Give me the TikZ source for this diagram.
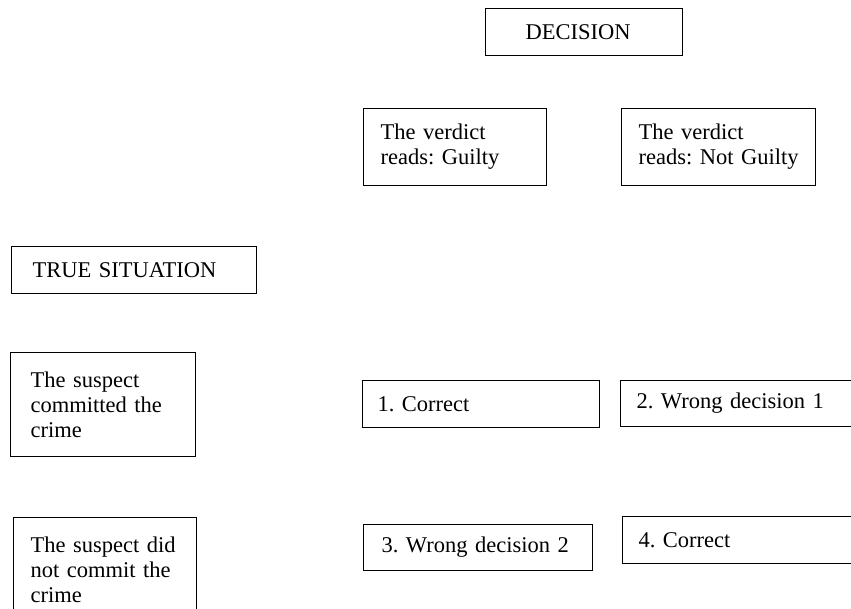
\documentclass[tikz,border=0pt]{standalone}
\usepackage{fontspec}
\setmainfont{Liberation Serif}
\usepackage{tikz}
\frenchspacing

\tikzset{
	cell/.style={draw, line width=1.2pt, anchor=north west, align=left, inner ysep=0pt, font=\fontsize{22.5}{25}\selectfont}
}

\begin{document}
\begin{tikzpicture}[x=1pt, y=-1pt]
		\clip (0,0) rectangle (851,609);
		
		\node[cell, inner xsep=40pt, text width=117pt, minimum height=47pt] (decision) at (485,8) {DECISION};
		\node[cell, inner xsep=17pt, text width=149pt, minimum height=77pt] (guilty) at (363,108) {The verdict\\reads: Guilty};
		\node[cell, inner xsep=17pt, text width=160pt, minimum height=77pt] (notguilty) at (621,108) {The verdict\\reads: Not Guilty};
		
		\node[cell, inner xsep=21pt, text width=203pt, minimum height=47pt] (truesit) at (11,246) {TRUE SITUATION};
		\node[cell, inner xsep=20pt, text width=145pt, minimum height=104pt] (committed) at (10,352) {The suspect\\committed the\\crime};
		\node[cell, inner xsep=17pt, text width=149pt, minimum height=104pt] (notcommitted) at (13,517) {The suspect did\\not commit the\\crime};
		
		\node[cell, inner xsep=15pt, text width=207pt, minimum height=47pt] (correctone) at (362,380) {1. Correct};
		\node[cell, inner xsep=16pt, text width=208pt, minimum height=46pt] (wrongone) at (620,380) {2. Wrong decision 1};
		\node[cell, inner xsep=18pt, text width=193pt, minimum height=46pt] (wrongtwo) at (363,524) {3. Wrong decision 2};
		\node[cell, inner xsep=16pt, text width=208pt, minimum height=47pt] (correcttwo) at (622,516) {4. Correct};
	\end{tikzpicture}
\end{document}
